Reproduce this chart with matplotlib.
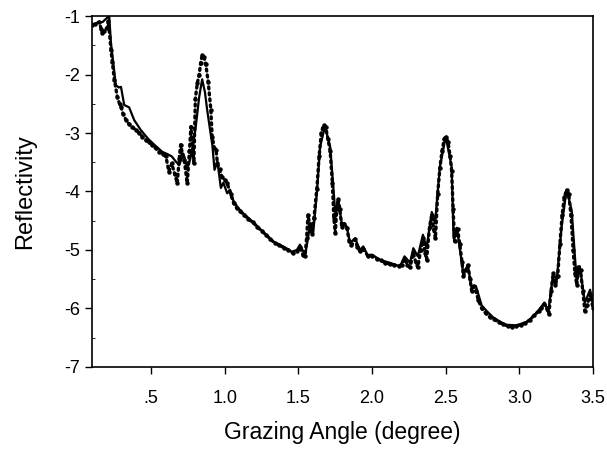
import numpy as np
import matplotlib
matplotlib.use("Agg")
import matplotlib.pyplot as plt

plt.rcParams['font.family'] = ['Liberation Sans', 'DejaVu Sans']
plt.rcParams['axes.unicode_minus'] = False

# calculated curve (solid line)
fit_angle = [0.10, 0.13, 0.17, 0.20, 0.215, 0.227, 0.245, 0.26, 0.28, 0.295,
             0.317, 0.35, 0.385, 0.43, 0.48, 0.53, 0.575, 0.61, 0.64, 0.665,
             0.69, 0.71, 0.725, 0.745, 0.765, 0.78, 0.80, 0.825, 0.846, 0.865,
             0.88, 0.90, 0.915, 0.93, 0.95, 0.973, 0.99, 1.016, 1.036, 1.057,
             1.09, 1.124, 1.19, 1.26, 1.33, 1.396, 1.455, 1.49, 1.51, 1.545,
             1.565, 1.58, 1.60, 1.625, 1.647, 1.68, 1.715, 1.735, 1.75, 1.77,
             1.794, 1.828, 1.85, 1.884, 1.918, 1.94, 1.97, 2.00, 2.054, 2.12,
             2.19, 2.22, 2.257, 2.28, 2.31, 2.345, 2.37, 2.405, 2.427, 2.46,
             2.50, 2.54, 2.553, 2.575, 2.62, 2.65, 2.676, 2.705, 2.744, 2.78,
             2.82, 2.87, 2.91, 2.98, 3.05, 3.10, 3.14, 3.17, 3.196, 3.23,
             3.253, 3.287, 3.32, 3.355, 3.377, 3.39, 3.41, 3.445, 3.48, 3.50]
fit_refl = [-1.15, -1.12, -1.10, -1.03, -1.00, -1.46, -1.85, -2.18, -2.22, -2.21,
            -2.52, -2.56, -2.78, -2.95, -3.10, -3.22, -3.32, -3.36, -3.40, -3.48,
            -3.55, -3.42, -3.40, -3.60, -3.45, -3.25, -2.95, -2.40, -2.08, -2.30,
            -2.60, -2.95, -3.20, -3.63, -3.49, -3.94, -3.85, -4.03, -3.97, -4.15,
            -4.28, -4.37, -4.52, -4.69, -4.86, -4.94, -5.03, -5.00, -4.91, -5.09,
            -4.80, -4.54, -4.71, -4.03, -3.23, -2.89, -3.23, -3.86, -4.37, -4.15,
            -4.54, -4.60, -4.88, -4.80, -5.00, -4.94, -5.09, -5.08, -5.17, -5.22,
            -5.28, -5.11, -5.22, -4.97, -5.11, -4.74, -4.97, -4.35, -4.54, -3.58,
            -3.06, -3.58, -4.80, -4.62, -5.42, -5.26, -5.66, -5.62, -5.95, -6.05,
            -6.15, -6.23, -6.28, -6.29, -6.23, -6.12, -6.00, -5.90, -6.05, -5.40,
            -5.52, -4.60, -3.97, -4.32, -5.11, -5.55, -5.28, -5.90, -5.68, -5.95]

# measured data (dots)
meas_angle = [0.10, 0.12, 0.148, 0.16, 0.168, 0.18, 0.20, 0.21, 0.227, 0.236,
              0.25, 0.27, 0.285, 0.295, 0.31, 0.33, 0.35, 0.37, 0.395, 0.42,
              0.44, 0.465, 0.485, 0.507, 0.53, 0.555, 0.58, 0.60, 0.62, 0.64,
              0.66, 0.677, 0.69, 0.70, 0.712, 0.724, 0.745, 0.76, 0.77, 0.79,
              0.80, 0.813, 0.826, 0.836, 0.846, 0.858, 0.87, 0.887, 0.905, 0.914,
              0.928, 0.94, 0.95, 0.965, 0.98, 1.00, 1.016, 1.04, 1.06, 1.08,
              1.10, 1.13, 1.16, 1.19, 1.22, 1.25, 1.28, 1.31, 1.34, 1.37,
              1.40, 1.43, 1.46, 1.49, 1.51, 1.53, 1.545, 1.555, 1.565, 1.575,
              1.59, 1.605, 1.625, 1.64, 1.655, 1.67, 1.685, 1.70, 1.715, 1.73,
              1.74, 1.75, 1.76, 1.77, 1.78, 1.794, 1.81, 1.828, 1.845, 1.86,
              1.884, 1.90, 1.918, 1.94, 1.97, 2.00, 2.03, 2.06, 2.09, 2.12,
              2.15, 2.18, 2.20, 2.22, 2.24, 2.257, 2.28, 2.295, 2.31, 2.33,
              2.345, 2.36, 2.37, 2.39, 2.405, 2.418, 2.43, 2.445, 2.46, 2.475,
              2.49, 2.50, 2.515, 2.53, 2.54, 2.55, 2.56, 2.57, 2.58, 2.595,
              2.61, 2.62, 2.635, 2.65, 2.665, 2.676, 2.69, 2.705, 2.72, 2.744,
              2.77, 2.80, 2.83, 2.86, 2.89, 2.92, 2.95, 2.98, 3.01, 3.04,
              3.07, 3.10, 3.13, 3.15, 3.17, 3.185, 3.20, 3.215, 3.23, 3.245,
              3.26, 3.275, 3.29, 3.305, 3.32, 3.335, 3.35, 3.365, 3.377, 3.39,
              3.40, 3.415, 3.43, 3.445, 3.46, 3.48, 3.50]
meas_refl = [-1.15, -1.13, -1.10, -1.22, -1.28, -1.25, -1.20, -1.08, -1.58, -1.78,
             -2.09, -2.38, -2.50, -2.55, -2.68, -2.78, -2.85, -2.89, -2.95, -3.00,
             -3.06, -3.12, -3.16, -3.20, -3.26, -3.32, -3.36, -3.40, -3.66, -3.52,
             -3.70, -3.86, -3.45, -3.20, -3.35, -3.46, -3.86, -3.30, -2.89, -3.52,
             -2.41, -2.15, -2.00, -1.80, -1.67, -1.70, -1.81, -2.12, -2.60, -3.06,
             -3.25, -3.29, -3.52, -3.62, -3.75, -3.80, -3.86, -4.05, -4.20, -4.28,
             -4.33, -4.40, -4.47, -4.53, -4.60, -4.68, -4.74, -4.82, -4.88, -4.92,
             -4.96, -5.00, -5.05, -5.02, -4.95, -5.08, -5.10, -4.80, -4.40, -4.55,
             -4.72, -4.45, -3.95, -3.40, -3.00, -2.86, -2.90, -3.10, -3.30, -3.85,
             -4.45, -4.71, -4.30, -4.12, -4.30, -4.60, -4.55, -4.62, -4.85, -4.92,
             -4.82, -4.95, -5.02, -4.98, -5.10, -5.10, -5.15, -5.18, -5.22, -5.24,
             -5.26, -5.28, -5.25, -5.15, -5.25, -5.30, -5.05, -5.20, -5.30, -5.00,
             -4.80, -5.05, -5.17, -4.60, -4.40, -4.65, -4.80, -4.05, -3.60, -3.30,
             -3.10, -3.06, -3.15, -3.40, -3.65, -4.30, -4.85, -4.70, -4.65, -4.90,
             -5.20, -5.45, -5.35, -5.26, -5.50, -5.70, -5.62, -5.70, -5.85, -6.00,
             -6.08, -6.15, -6.19, -6.24, -6.27, -6.30, -6.31, -6.30, -6.28, -6.25,
             -6.20, -6.12, -6.05, -6.00, -5.92, -6.00, -6.10, -5.70, -5.40, -5.60,
             -5.45, -4.90, -4.40, -4.10, -3.97, -4.05, -4.40, -5.00, -5.40, -5.60,
             -5.30, -5.35, -5.70, -6.05, -5.95, -5.75, -6.00]

xticks = [0.5, 1.0, 1.5, 2.0, 2.5, 3.0, 3.5]
xticklabels = ['.5', '1.0', '1.5', '2.0', '2.5', '3.0', '3.5']
yticks = [-7, -6, -5, -4, -3, -2, -1]
yticklabels = ['-7', '-6', '-5', '-4', '-3', '-2', '-1']

fig = plt.figure(figsize=(6.07, 4.49), dpi=100)
ax = fig.add_axes([0.152, 0.183, 0.825, 0.781])

ax.plot(meas_angle, meas_refl, color='black', linestyle=(0, (0.6, 1.2)),
        linewidth=2.4, dash_capstyle='round', marker='o', markersize=3.2,
        markeredgewidth=0)
ax.plot(fit_angle, fit_refl, color='black', linewidth=1.6)

ax.set_xlim(0.1, 3.5)
ax.set_ylim(-7, -1)
ax.set_xticks(xticks)
ax.set_xticklabels(xticklabels)
ax.set_yticks(yticks)
ax.set_yticklabels(yticklabels)
ax.set_yticks(np.arange(-6.5, -1, 1.0), minor=True)
ax.tick_params(axis='both', which='major', direction='out', length=5,
               width=1, labelsize=13)
ax.tick_params(axis='x', pad=12)
ax.tick_params(axis='y', pad=4)
ax.tick_params(axis='y', which='minor', direction='in', length=2)

for s in ax.spines.values():
    s.set_linewidth(1.2)

ax.set_xlabel('Grazing Angle (degree)', fontsize=16.5)
ax.xaxis.set_label_coords(0.5, -0.155)
ax.set_ylabel('Reflectivity', fontsize=17)
ax.yaxis.set_label_coords(-0.113, 0.5)

fig.savefig('out.png', dpi=100)
